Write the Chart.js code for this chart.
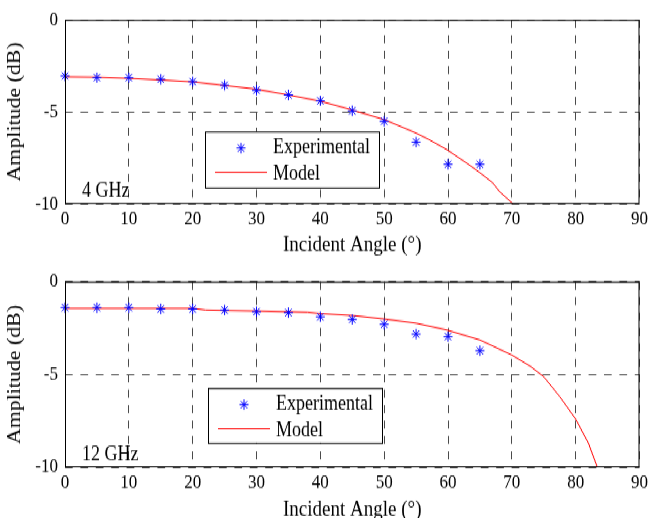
<!DOCTYPE html>
<html>
<head>
<meta charset="utf-8">
<script src="https://cdn.jsdelivr.net/npm/chart.js@4/dist/chart.umd.min.js"></script>
<style>
html, body { margin: 0; padding: 0; background: #fff; }
#page { width: 651px; height: 518px; position: relative; overflow: hidden; }
/* the reference picture is a little taller than wide, so stretch it */
#wrap { position: absolute; left: 0; top: 0; width: 651px; height: 450px; transform: scaleY(1.1511); transform-origin: 0 0; }
canvas { display: block; }
</style>
</head>
<body>
<div id="page">
  <div id="wrap">
    <canvas id="c4" width="651" height="225"></canvas>
    <canvas id="c12" width="651" height="225"></canvas>
  </div>
</div>
<script>
// measured angles (deg)
const expAngles = [0, 5, 10, 15, 20, 25, 30, 35, 40, 45, 50, 55, 60, 65];
const exp4 = [-3.05, -3.14, -3.14, -3.23, -3.36, -3.55, -3.82, -4.08, -4.40, -4.94, -5.51, -6.64, -7.85, -7.85];
const exp12 = [-1.40, -1.40, -1.40, -1.47, -1.47, -1.53, -1.62, -1.67, -1.89, -2.03, -2.30, -2.82, -2.96, -3.72];

// model curves
const modelAngles4 = [0, 5, 10, 15, 20, 25, 30, 35, 40, 45, 50, 55, 57, 60, 63, 65, 67, 68, 70.2];
const model4 = [-3.10, -3.12, -3.18, -3.27, -3.37, -3.57, -3.77, -4.08, -4.42, -4.90, -5.42, -6.15, -6.50, -7.09, -7.80, -8.30, -8.85, -9.30, -10];
const modelAngles12 = [0, 20, 22, 30, 38, 40, 45, 50, 55, 60, 65, 70, 73, 75, 77.5, 80, 82, 83.4];
const model12 = [-1.44, -1.44, -1.53, -1.58, -1.65, -1.72, -1.82, -2.01, -2.24, -2.62, -3.14, -3.95, -4.58, -5.12, -6.19, -7.40, -8.70, -10];

const xTicks = [0, 10, 20, 30, 40, 50, 60, 70, 80, 90];
const yTicks = [-10, -5, 0];

const serif = 'Liberation Serif';

function pairs(xs, ys) {
    return xs.map((x, i) => ({ x: x, y: ys[i] }));
}

// axes box, legend and frequency label
const panelPlugin = {
    id: 'panel',
    afterDraw(chart, args, opts) {
        const ctx = chart.ctx;
        const a = chart.chartArea;
        ctx.save();

        ctx.strokeStyle = '#000';
        ctx.lineWidth = 1;
        ctx.strokeRect(a.left + 0.5, a.top + 0.5, a.right - a.left - 1, a.bottom - a.top - 1);

        // legend
        const lx = a.left + opts.legendX;
        const ly = a.top + opts.legendY;
        ctx.fillStyle = '#fff';
        ctx.fillRect(lx, ly, 174, opts.legendH);
        ctx.strokeRect(lx + 0.5, ly + 0.5, 174, opts.legendH);

        const sx = lx + 36, sy = ly + 14.5, r = 4.5;
        ctx.strokeStyle = '#0000ff';
        ctx.beginPath();
        ctx.moveTo(sx - r, sy); ctx.lineTo(sx + r, sy);
        ctx.moveTo(sx, sy - r); ctx.lineTo(sx, sy + r);
        const d = r * 0.707;
        ctx.moveTo(sx - d, sy - d); ctx.lineTo(sx + d, sy + d);
        ctx.moveTo(sx - d, sy + d); ctx.lineTo(sx + d, sy - d);
        ctx.stroke();

        ctx.strokeStyle = '#ff0000';
        ctx.beginPath();
        ctx.moveTo(lx + 10, ly + 35.4);
        ctx.lineTo(lx + 62, ly + 35.4);
        ctx.stroke();

        ctx.fillStyle = '#000';
        ctx.font = '18px "' + serif + '"';
        ctx.textBaseline = 'middle';
        ctx.textAlign = 'left';
        ctx.fillText('Experimental', lx + 68, sy);
        ctx.fillText('Model', lx + 68, ly + 37.4);

        ctx.fillText(opts.label, 82, a.bottom - 10.7);
        ctx.restore();
    }
};

function makeChart(canvas, expVals, mAngles, mVals, p) {
    return new Chart(canvas, {
        type: 'scatter',
        data: {
            datasets: [{
                label: 'Experimental',
                data: pairs(expAngles, expVals),
                showLine: false,
                pointStyle: 'star',
                pointRadius: 4.5,
                pointBorderWidth: 1,
                borderColor: '#0000ff',
                backgroundColor: '#0000ff',
                clip: false
            }, {
                label: 'Model',
                data: pairs(mAngles, mVals),
                showLine: true,
                pointRadius: 0,
                borderColor: '#ff0000',
                borderWidth: 1,
                tension: 0
            }]
        },
        options: {
            responsive: false,
            animation: false,
            layout: { padding: { top: p.top, right: 11, bottom: 0, left: 0 } },
            plugins: {
                legend: { display: false },
                tooltip: { enabled: false },
                panel: p.panel
            },
            scales: {
                x: {
                    type: 'linear',
                    min: 0, max: 90,
                    afterBuildTicks: s => { s.ticks = xTicks.map(v => ({ value: v })); },
                    afterFit: s => { s.height = p.xHeight; },
                    ticks: { color: '#000', padding: 3, font: { family: serif, size: 17 } },
                    grid: { color: '#4a4a4a', lineWidth: 1, drawTicks: false },
                    border: { display: false, dash: [7, 6.4] },
                    title: {
                        display: true, text: 'Incident Angle (°)', color: '#000',
                        font: { family: serif, size: 19 },
                        padding: { top: 0, bottom: p.titlePad }
                    }
                },
                y: {
                    type: 'linear',
                    min: -10, max: 0,
                    afterBuildTicks: s => { s.ticks = yTicks.map(v => ({ value: v })); },
                    afterFit: s => { s.width = 65; },
                    ticks: { color: '#000', padding: 7, font: { family: serif, size: 17 } },
                    grid: { color: '#4a4a4a', lineWidth: 1, drawTicks: false },
                    border: { display: false, dash: [7.7, 7.7] },
                    title: {
                        display: true, text: 'Amplitude (dB)', color: '#000',
                        font: { family: serif, size: 19 },
                        padding: { top: 3.6, bottom: 0 }
                    }
                }
            }
        },
        plugins: [panelPlugin]
    });
}

makeChart(document.getElementById('c4'), exp4, modelAngles4, model4, {
    top: 15.9, xHeight: 47.8, titlePad: 0.8,
    panel: { label: '4 GHz', legendX: 140, legendY: 97, legendH: 48.7 }
});

makeChart(document.getElementById('c12'), exp12, modelAngles12, model12, {
    top: 19.7, xHeight: 44, titlePad: -4.5,
    panel: { label: '12 GHz', legendX: 143, legendY: 92.4, legendH: 47.7 }
});
</script>
</body>
</html>
